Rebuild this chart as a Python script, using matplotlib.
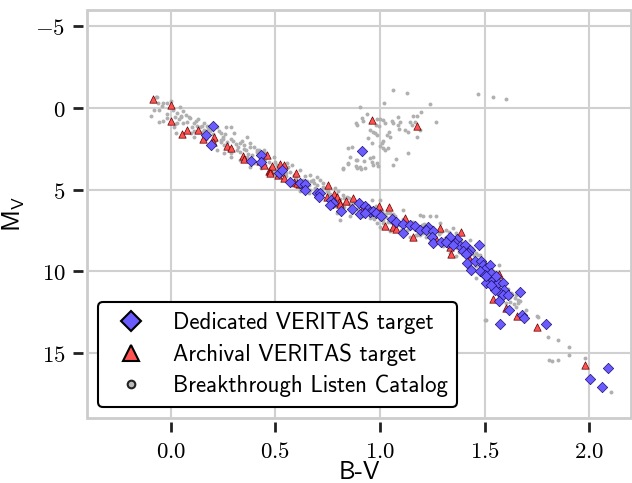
import matplotlib
matplotlib.use('Agg')
import matplotlib.pyplot as plt
from matplotlib.lines import Line2D
from matplotlib.ticker import FuncFormatter, MultipleLocator

# Breakthrough Listen catalog (grey background)
bl_bv = [-0.084, -0.071, -0.067, -0.035, -0.016, -0.056, -0.095, -0.056, -0.035, 0.019, 0.044, 0.016, 0.032,
         0.048, 0.071, 0.087, 0.024, 0.08, 0.111, 0.127, 0.175, 0.222, 0.095, 0.111, 0.159, 0.238, 0.262,
         0.286, 0.302, 0.238, 0.254, 0.333, 0.365, 0.381, 0.397, 0.317, 0.333, 0.365, 0.413, 0.444, 0.286,
         0.254, 0.222, 0.381, 0.286,
         0.452, 0.492, 0.5, 0.556, 0.579, 0.619, 0.667, 0.698, 0.714, 0.683, 0.73, 0.619, 0.667, 0.746,
         0.786, 0.825, 0.841, 0.873, 0.905, 0.937, 0.968, 1.0, 1.032, 0.81, 0.857, 0.794, 0.952, 0.984,
         1.016, 1.048, 0.849, 0.889, 0.905, 0.968, 0.825, 0.952, 0.984,
         0.96, 1.0, 0.984, 1.016, 1.048, 1.111, 1.19, 1.206, 1.238, 1.27, 1.286, 1.206, 1.238, 1.27, 1.317,
         1.349, 1.365, 1.389, 1.429, 1.413, 1.444, 1.46, 1.476, 1.5, 1.532, 1.556, 1.476, 1.46, 1.333,
         1.365, 1.302, 1.175, 1.143, 1.048, 1.0,
         1.571, 1.651, 1.667, 1.698, 1.508, 1.754, 1.643, 1.603, 1.627, 1.556, 1.662, 1.5,
         1.751, 1.802, 1.852, 1.902, 1.902, 1.81, 1.822, 1.852, 1.981, 2.103,
         1.063, 1.13, 1.468, 1.54, 1.603, 1.021, 1.241, 0.905, 1.195, 1.156, 1.175, 1.27, 1.087, 1.056,
         1.063, 0.913, 0.921, 0.937, 0.984, 1.0, 1.016, 1.024, 0.886, 0.889, 0.981, 0.997, 1.087, 1.095,
         1.143, 1.167, 1.151, 1.119, 1.135, 1.092, 1.044, 0.952, 0.968, 0.976, 0.944, 0.984, 1.032, 1.048,
         1.178, 1.016, 1.008, 1.0, 1.016, 1.04, 1.024, 0.846, 0.865, 0.96, 1.132, 1.079, 1.063, 0.857,
         0.884, 0.924, 0.968, 0.963, 0.849, 0.886, 0.892, 0.908, 0.929, 0.992, 0.822, 1.19,
         0.42, 0.45, 0.5, 0.52, 0.55, 0.57, 0.6, 0.63, 0.65, 0.67, 0.69, 0.72, 0.74, 0.76, 0.78, 0.8, 0.82,
         0.84, 0.86, 0.88, 0.9, 0.92, 0.94, 0.96, 0.99, 1.02, 1.05, 1.07, 1.09, 1.12, 1.14, 1.16, 1.18,
         1.2, 1.22, 1.24, 1.26, 1.28, 1.3, 1.32, 1.34, 1.36, 1.38, 1.4, 1.42, 1.44, 1.46, 1.48, 1.5, 1.52,
         1.54, 1.56, 1.58, 1.6, 1.62, 1.64, 0.3, 0.32, 0.35, 0.37, 0.39, 0.27, 0.25, 0.2, 0.18, 0.15, 0.12,
         0.1, 0.06, 0.03, -0.02, 0.33, 0.4, 0.43, 0.48, 0.53, 0.58, 0.62, 0.66, 0.7, 0.75, 0.79, 0.83, 0.87,
         0.91, 0.95, 1.0, 1.04, 1.1, 1.13, 1.17, 1.21, 1.25, 1.29, 1.33, 1.37, 1.41, 1.45, 1.49, 1.53,
         -0.08, -0.04, -0.02, 0.01, 0.04, 0.06, 0.09, 0.11, 0.13, 0.14, 0.16, 0.17, 0.19, 0.21, 0.23, 0.24,
         0.26, 0.28, 0.29, 0.31, 0.34, 0.36, 0.38, 0.41, 0.43, 0.44, 0.47, 0.49, 0.51, 0.54, 0.56, 0.59,
         0.61, 0.64, 0.66, 0.68, 0.71, 0.73, 0.75, 0.77, 0.79, 0.81, 0.83, 0.85, 0.87, 0.89, 0.91, 0.93,
         0.95, 0.97, 0.98, 1.01, 1.03, 1.06, 1.08, 1.11, 1.13, 1.15, 1.17, 1.19, 1.21, 1.23, 1.25, 1.27,
         1.29, 1.31, 1.33, 1.35, 1.37, 1.39, 1.41, 1.43, 1.44, 1.46, 1.47, 1.49, 1.51, 1.52, 1.53, 1.55,
         1.57, 1.58, 1.59, 1.61, 1.62, 1.63, 1.65, 1.66, 0.45, 0.55, 0.65, 0.75, 0.85, 0.95, 1.05, 1.15,
         1.25, 1.35, 0.15, 0.25, 0.35, 0.05, 0.0, -0.06, 0.02]
bl_mv = [-0.4, -0.69, -0.65, -0.29, -0.29, 0.12, 0.49, 0.84, 0.78, 0.53, -0.04, 1.14, 0.94,
         0.53, 0.43, 0.53, 1.55, 0.84, 0.94, 1.1, 1.1, 1.14, 1.55, 1.76, 1.35, 1.55, 1.14,
         1.14, 1.55, 1.96, 2.27, 2.16, 1.76, 2.16, 2.37, 2.57, 3.18, 2.98, 2.57, 2.57, 2.78,
         2.78, 2.57, 3.59, 2.98,
         2.78, 2.98, 3.8, 3.39, 3.49, 3.8, 4.1, 4.21, 4.41, 4.61, 4.82, 4.92, 5.02, 5.12,
         4.92, 5.33, 5.43, 5.84, 5.94, 5.94, 6.14, 6.35, 6.45, 6.86, 6.65, 6.45, 6.75, 7.06,
         6.86, 6.96, 3.39, 3.18, 3.59, 3.49, 3.69, 3.08, 3.39,
         5.63, 5.63, 6.25, 7.06, 6.45, 6.25, 6.55, 6.65, 6.65, 6.65, 7.06, 7.67, 8.19, 8.08, 7.47,
         7.37, 7.67, 8.08, 8.08, 8.49, 8.7, 8.9, 9.0, 9.51, 9.82, 10.12, 10.12, 10.43, 8.9,
         9.1, 8.49, 7.78, 7.88, 7.57, 7.27,
         9.61, 11.45, 11.86, 12.37, 12.98, 12.82, 11.66, 11.96, 11.35, 10.23, 11.96, 13.02,
         12.78, 14.04, 14.25, 14.68, 15.17, 15.43, 15.49, 15.47, 15.33, 17.41,
         -1.1, -0.9, -0.86, -0.65, -0.55, -0.29, -0.24, -0.04, 0.27, 0.49, 0.49, 0.84, 0.53, 0.78,
         0.9, 0.63, 0.78, 0.39, 0.69, 0.69, 0.73, 0.94, 0.94, 1.04, 1.04, 1.1, 1.04, 0.84,
         0.84, 0.84, 1.04, 1.35, 1.45, 1.31, 1.45, 1.35, 1.45, 1.55, 1.86, 1.65, 1.65, 1.8,
         1.8, 2.0, 2.16, 2.33, 2.47, 2.47, 2.57, 2.47, 2.37, 2.16, 2.74, 3.14, 3.51, 3.02,
         3.18, 3.23, 3.02, 3.29, 3.43, 3.55, 3.69, 3.75, 3.69, 3.55, 3.75, 1.35,
         2.6, 3.1, 3.3, 3.7, 4.2, 3.9, 4.3, 4.4, 4.8, 4.5, 4.9, 5.0, 4.9, 5.3, 5.5, 5.1, 5.9,
         5.8, 6.0, 5.7, 6.3, 6.6, 6.0, 6.7, 6.2, 6.5, 6.9, 6.6, 7.2, 6.9, 7.4, 7.0, 7.6,
         7.2, 7.9, 7.4, 8.0, 7.7, 8.3, 7.9, 8.6, 8.2, 8.8, 8.4, 9.1, 9.3, 9.7, 9.5, 10.0, 10.4,
         10.0, 11.0, 10.5, 11.2, 11.6, 12.0, 2.0, 2.4, 2.5, 2.8, 2.9, 2.1, 1.8, 1.6, 1.3, 1.5, 0.8,
         1.2, 0.9, 0.3, 0.4, 2.7, 3.4, 3.7, 3.6, 4.0, 4.7, 5.1, 5.2, 4.7, 5.6, 6.0, 5.5, 6.4,
         5.8, 6.5, 6.8, 7.0, 7.5, 7.2, 7.8, 7.6, 7.8, 8.2, 8.4, 8.6, 8.9, 9.0, 9.8, 10.7,
         0.1, -0.1, 0.6, 0.1, 0.7, 0.2, 0.6, 1.4, 0.7, 1.2, 0.9, 1.9, 1.4, 2.0, 1.4, 2.1,
         1.6, 2.6, 1.9, 2.2, 2.0, 2.6, 2.4, 2.7, 3.2, 2.8, 3.3, 3.9, 3.5, 3.8, 3.6, 4.1,
         4.6, 4.2, 4.7, 4.4, 5.2, 4.6, 5.1, 5.7, 5.3, 5.6, 6.1, 5.5, 5.8, 6.2, 6.0, 6.4,
         6.2, 6.8, 6.0, 6.3, 6.7, 6.5, 7.0, 6.8, 7.5, 7.0, 7.2, 7.8, 7.1, 7.7, 7.3, 8.1,
         7.6, 8.0, 7.6, 8.5, 8.0, 8.3, 8.6, 8.9, 8.6, 9.4, 9.0, 9.3, 10.2, 9.7, 10.1, 10.4,
         10.9, 11.2, 10.7, 11.1, 11.9, 11.4, 12.2, 11.8, 3.5, 4.0, 4.5, 5.3, 5.9, 6.4, 6.8, 7.3,
         7.6, 8.2, 1.1, 1.9, 2.3, 0.5, -0.4, -0.3, 1.0]

# Archival VERITAS targets
arc_bv = [-0.084, 0.0, 0.0, 0.054, 0.08, 0.13, 0.152, 0.206, 0.203, 0.27, 0.29, 0.346, 0.35, 0.425, 0.46,
          0.448, 0.468, 0.473, 0.52, 0.543, 0.597, 0.511, 0.543, 0.587, 0.613, 0.484, 0.516, 0.603, 0.754,
          0.746, 0.781, 0.797, 0.803, 0.81, 0.838, 0.87, 0.913, 0.994, 1.044, 1.025, 0.476, 1.0, 1.06,
          1.079, 1.119, 1.159, 1.286, 1.27, 1.389, 1.333, 1.341, 1.425, 1.568, 1.54, 1.6, 1.654, 1.75,
          1.981, 0.963, 1.179]
arc_mv = [-0.53, -0.17, 0.8, 1.57, 1.35, 1.35, 1.9, 1.8, 2.06, 2.33, 2.47, 2.92, 3.12, 3.25, 2.88,
          3.49, 3.84, 3.88, 3.41, 3.47, 3.96, 4.1, 4.31, 4.57, 4.65, 3.55, 3.9, 4.61, 4.72,
          5.43, 5.27, 5.43, 5.74, 5.88, 5.68, 5.49, 6.25, 6.0, 6.08, 7.23, 4.0, 6.41, 7.31,
          7.4, 6.75, 7.92, 7.37, 8.04, 7.59, 8.53, 8.94, 9.2, 10.17, 11.72, 12.27, 12.74, 13.45,
          15.74, 0.73, 1.08]

# Dedicated VERITAS targets
ded_bv = [0.2, 0.168, 0.192, 0.384, 0.43, 0.43, 0.518, 0.533, 0.571, 0.616, 0.641, 0.641, 0.70, 0.714,
          0.708, 0.768, 0.775, 0.762, 0.816, 0.867, 0.898, 0.905, 0.93, 0.944, 0.952, 0.968, 0.981, 1.003,
          0.929, 0.916, 1.057, 1.079, 1.111, 1.108, 1.143, 1.167, 1.19, 1.23, 1.219, 1.254, 1.248, 1.254,
          1.294, 1.333, 1.327, 1.368, 1.357, 1.381, 1.405, 1.397, 1.429, 1.473, 1.333, 1.317, 1.349, 1.421,
          1.41, 1.416, 1.437, 1.452, 1.484, 1.492, 1.508, 1.524, 1.476, 1.5, 1.532, 1.508, 1.54, 1.548,
          1.563, 1.587, 1.595, 1.571, 1.548, 1.587, 1.611, 1.571, 1.619, 1.67, 1.678, 1.686, 1.575, 1.794,
          2.092, 2.003, 2.063, 1.508, 1.556, 1.532]
ded_mv = [1.1, 1.63, 2.27, 3.23, 2.9, 3.3, 3.98, 3.8, 4.53, 4.61, 4.65, 5.02, 5.19, 5.22,
          5.43, 5.63, 5.84, 5.94, 6.33, 6.2, 5.84, 6.49, 6.04, 6.17, 6.35, 6.31, 6.45, 6.65,
          6.45, 2.65, 6.78, 6.96, 7.1, 7.64, 7.16, 7.23, 7.47, 7.27, 7.47, 7.57, 7.88, 8.29,
          8.19, 8.08, 8.29, 8.04, 8.29, 8.49, 8.39, 8.74, 8.7, 8.41, 7.88, 8.19, 8.39, 8.9,
          8.94, 9.51, 9.92, 9.41, 9.35, 9.61, 9.82, 9.61, 10.02, 10.22, 10.12, 10.73, 10.53, 10.84,
          10.73, 10.73, 11.15, 11.25, 11.15, 11.45, 11.45, 11.86, 12.37, 11.25, 12.66, 12.88, 13.23, 13.23,
          15.96, 16.62, 17.1, 10.33, 10.33, 10.84]

blue = '#6a5cff'
red = '#ff5252'
grey = '#b0b0b0'

plt.rcParams['mathtext.fontset'] = 'cm'

fig = plt.figure(figsize=(6.32, 4.83), dpi=100)
ax = fig.add_axes([0.1377, 0.1346, 0.8608, 0.8447])

ax.scatter(bl_bv, bl_mv, s=8, color=grey, linewidths=0, zorder=2)
ax.scatter(arc_bv, arc_mv, s=28, marker='^', color=red, edgecolors='#600000', linewidths=0.5, zorder=3)
ax.scatter(ded_bv, ded_mv, s=28, marker='D', color=blue, edgecolors='#20106a', linewidths=0.5, zorder=4)

ax.set_xlim(-0.4, 2.2)
ax.set_ylim(19, -6)
ax.xaxis.set_major_locator(MultipleLocator(0.5))
ax.yaxis.set_major_locator(MultipleLocator(5))
ax.xaxis.set_major_formatter(FuncFormatter(lambda v, p: '$%.1f$' % v))
ax.yaxis.set_major_formatter(FuncFormatter(lambda v, p: '$%d$' % round(v)))
ax.tick_params(labelsize=16.5, length=7.5, width=2, color='#222222', pad=5)

ax.grid(True, color='#d0d0d0', linewidth=1.5, zorder=0)
ax.set_axisbelow(True)
for side in ax.spines:
    ax.spines[side].set_position(('outward', 3))
    ax.spines[side].set_color('none')
ax.patch.set_edgecolor('#cccccc')
ax.patch.set_linewidth(2)

ax.set_xlabel('B-V', family='cmss10', fontsize=18, labelpad=-1)
ax.set_ylabel(r'$\mathsf{M}_\mathsf{V}$', fontsize=18, labelpad=6)

handles = [
    Line2D([], [], marker='D', linestyle='', markersize=10, markerfacecolor=blue, markeredgecolor='black', markeredgewidth=1.5),
    Line2D([], [], marker='^', linestyle='', markersize=11, markerfacecolor=red, markeredgecolor='black', markeredgewidth=1.5),
    Line2D([], [], marker='o', linestyle='', markersize=5.5, markerfacecolor='#bbbbbb', markeredgecolor='#222222', markeredgewidth=1.5),
]
labels = ['Dedicated VERITAS target', 'Archival VERITAS target', 'Breakthrough Listen Catalog']
leg = ax.legend(handles, labels, loc='lower left', prop={'family': 'cmss10', 'size': 16.5},
                framealpha=1, edgecolor='black', fancybox=True, handlelength=2.0, handletextpad=0.85,
                labelspacing=0.4)
leg.get_frame().set_linewidth(1.5)

fig.savefig('out.png', dpi=100)
